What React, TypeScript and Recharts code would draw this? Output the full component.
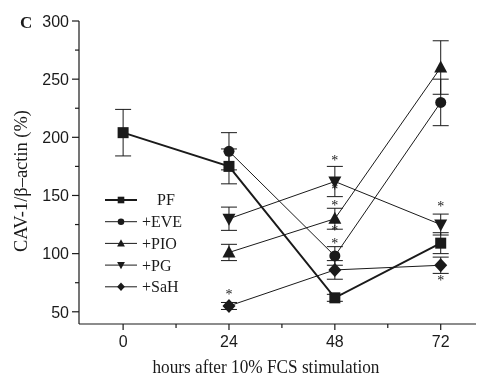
import {
  ComposedChart,
  Line,
  Scatter,
  XAxis,
  YAxis,
  ErrorBar,
  Legend,
} from "recharts";

const hours = [0, 24, 48, 72];
const treatedHours = [24, 48, 72];

const pf = [204, 175, 62, 109];
const pfErr = [20, 15, 3, 9];
const eve = [188, 98, 230];
const eveErr = [16, 8, 20];
const pio = [101, 130, 260];
const pioErr = [7, 9, 23];
const pg = [130, 162, 125];
const pgErr = [10, 13, 9];
const sah = [55, 86, 90];
const sahErr = [3, 8, 7];

// asterisk positions (hour, value)
const starHours = [24, 48, 48, 48, 48, 48, 72, 72];
const starValues = [67, 182, 157, 143, 122, 110, 142, 79];

const yTicks = [50, 75, 100, 125, 150, 175, 200, 225, 250, 275, 300];
const xTicks = [0, 12, 24, 36, 48, 60, 72];

const legendLabels = ["PF", "+EVE", "+PIO", "+PG", "+SaH"];
const shapes = ["square", "circle", "up", "down", "diamond"];

const SANS = "'Liberation Sans', Arial, sans-serif";
const SERIF = "'Liberation Serif', 'Times New Roman', serif";
const INK = "#1a1a1a";

const pfData = hours.map((h, i) => ({ h, v: pf[i], e: pfErr[i] }));
const mk = (vals: number[], errs: number[]) =>
  treatedHours.map((h, i) => ({ h, v: vals[i], e: errs[i] }));
const eveData = mk(eve, eveErr);
const pioData = mk(pio, pioErr);
const pgData = mk(pg, pgErr);
const sahData = mk(sah, sahErr);
const starData = starHours.map((h, i) => ({ h, v: starValues[i] }));

function Marker({ cx, cy, shape, s = 1 }: any) {
  if (cx == null || cy == null) return null;
  switch (shape) {
    case "square":
      return <rect x={cx - 5.5 * s} y={cy - 5.5 * s} width={11 * s} height={11 * s} fill={INK} />;
    case "circle":
      return <circle cx={cx} cy={cy} r={5.5 * s} fill={INK} />;
    case "up":
      return (
        <path
          d={`M${cx},${cy - 7 * s} L${cx + 6.5 * s},${cy + 5 * s} L${cx - 6.5 * s},${cy + 5 * s} Z`}
          fill={INK}
        />
      );
    case "down":
      return (
        <path
          d={`M${cx},${cy + 7 * s} L${cx + 6.5 * s},${cy - 5 * s} L${cx - 6.5 * s},${cy - 5 * s} Z`}
          fill={INK}
        />
      );
    default:
      return (
        <path
          d={`M${cx},${cy - 7 * s} L${cx + 6.5 * s},${cy} L${cx},${cy + 7 * s} L${cx - 6.5 * s},${cy} Z`}
          fill={INK}
        />
      );
  }
}

const dotFor = (shape: string) => (p: any) =>
  <Marker key={`${shape}-${p.index}`} cx={p.cx} cy={p.cy} shape={shape} />;

function YTick({ x, y, payload }: any) {
  const major = payload.value % 50 === 0;
  return (
    <g>
      <line x1={x - (major ? 7 : 4)} x2={x} y1={y} y2={y} stroke={INK} strokeWidth={1.2} />
      {major && (
        <text x={x - 10} y={y} dy="0.36em" textAnchor="end" fontFamily={SANS} fontSize={16} fill={INK}>
          {payload.value}
        </text>
      )}
    </g>
  );
}

function XTick({ x, y, payload }: any) {
  const major = payload.value % 24 === 0;
  return (
    <g>
      <line x1={x} x2={x} y1={y} y2={y + (major ? 6 : 4)} stroke={INK} strokeWidth={1.2} />
      {major && (
        <text x={x} y={y + 23} textAnchor="middle" fontFamily={SANS} fontSize={16} fill={INK}>
          {payload.value}
        </text>
      )}
    </g>
  );
}

const renderStar = (p: any) => (
  <text x={p.cx} y={p.cy + 6.5} textAnchor="middle" fontFamily={SERIF} fontSize={14} fill={INK}>
    *
  </text>
);

function LegendBox() {
  return (
    <svg width={110} height={110}>
      {legendLabels.map((label, i) => {
        const y = 10 + i * 21.7;
        return (
          <g key={label}>
            <line x1={5} x2={37} y1={y} y2={y} stroke={INK} strokeWidth={i === 0 ? 2 : 1} />
            <Marker cx={21} cy={y} shape={shapes[i]} s={0.6} />
            <text
              x={i === 0 ? 57 : 42}
              y={y}
              dy="0.34em"
              fontFamily={SERIF}
              fontSize={16}
              fill={INK}
            >
              {label}
            </text>
          </g>
        );
      })}
    </svg>
  );
}

export default function App() {
  return (
    <div
      style={{
        position: "absolute",
        left: 0,
        top: 0,
        width: 484,
        height: 377,
        background: "#fff",
        filter: "grayscale(1)",
      }}
    >
      <ComposedChart width={484} height={377} margin={{ top: 21, right: 8, bottom: 0, left: 0 }}>
        <XAxis
          type="number"
          dataKey="h"
          domain={[-10, 80]}
          ticks={xTicks}
          tick={<XTick />}
          tickLine={false}
          tickSize={0}
          tickMargin={0}
          height={53}
          axisLine={{ stroke: INK, strokeWidth: 1.2 }}
          allowDataOverflow
        />
        <YAxis
          type="number"
          dataKey="v"
          domain={[39.5, 300]}
          ticks={yTicks}
          tick={<YTick />}
          tickLine={false}
          tickSize={0}
          tickMargin={0}
          width={79}
          axisLine={{ stroke: INK, strokeWidth: 1.2 }}
          allowDataOverflow
        />
        <Legend
          layout="vertical"
          align="center"
          verticalAlign="middle"
          content={() => <LegendBox />}
          wrapperStyle={{ position: "absolute", left: 100, top: 190, width: 110, height: 110 }}
        />
        <Line data={pfData} dataKey="v" stroke={INK} strokeWidth={2} dot={dotFor("square")} isAnimationActive={false}>
          <ErrorBar dataKey="e" direction="y" width={8} stroke={INK} strokeWidth={1} />
        </Line>
        <Line data={eveData} dataKey="v" stroke={INK} strokeWidth={1} dot={dotFor("circle")} isAnimationActive={false}>
          <ErrorBar dataKey="e" direction="y" width={8} stroke={INK} strokeWidth={1} />
        </Line>
        <Line data={pioData} dataKey="v" stroke={INK} strokeWidth={1} dot={dotFor("up")} isAnimationActive={false}>
          <ErrorBar dataKey="e" direction="y" width={8} stroke={INK} strokeWidth={1} />
        </Line>
        <Line data={pgData} dataKey="v" stroke={INK} strokeWidth={1} dot={dotFor("down")} isAnimationActive={false}>
          <ErrorBar dataKey="e" direction="y" width={8} stroke={INK} strokeWidth={1} />
        </Line>
        <Line data={sahData} dataKey="v" stroke={INK} strokeWidth={1} dot={dotFor("diamond")} isAnimationActive={false}>
          <ErrorBar dataKey="e" direction="y" width={8} stroke={INK} strokeWidth={1} />
        </Line>
        <Scatter data={starData} dataKey="v" fill={INK} shape={renderStar} isAnimationActive={false} />
        <text x={20} y={27.5} fontFamily={SERIF} fontWeight="bold" fontSize={17} fill={INK}>
          C
        </text>
        <text
          x={27}
          y={181}
          transform="rotate(-90 27 181)"
          textAnchor="middle"
          fontFamily={SERIF}
          fontSize={19}
          textLength={142}
          lengthAdjust="spacingAndGlyphs"
          fill={INK}
        >
          CAV-1/β–actin (%)
        </text>
        <text
          x={266}
          y={373}
          textAnchor="middle"
          fontFamily={SERIF}
          fontSize={18.5}
          textLength={227}
          lengthAdjust="spacingAndGlyphs"
          fill={INK}
        >
          hours after 10% FCS stimulation
        </text>
      </ComposedChart>
    </div>
  );
}
